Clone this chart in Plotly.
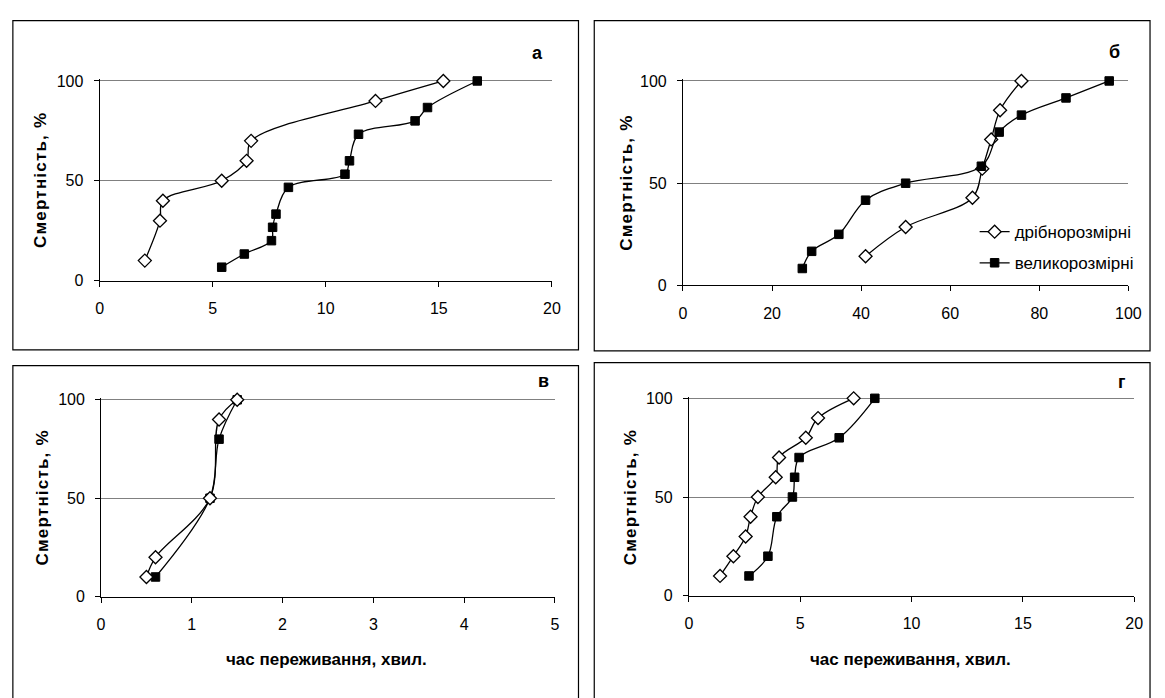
import plotly.graph_objects as go

W, H = 1165, 698

# ---- data: survival time vs cumulative mortality ----
small_label = "дрібнорозмірні"
large_label = "великорозмірні"

a_small_x = [2.0, 2.67, 2.8, 5.4, 6.5, 6.7, 12.2, 15.2]
a_small_y = [10, 30, 40, 50, 60, 70, 90, 100]
a_large_x = [5.4, 6.4, 7.6, 7.65, 7.8, 8.35, 10.85, 11.05, 11.45, 13.95, 14.5, 16.7]
a_large_y = [6.7, 13.3, 20, 26.7, 33.3, 46.7, 53.3, 60, 73.3, 80, 86.7, 100]

b_small_x = [41, 50, 65, 67.2, 69.2, 71.2, 76]
b_small_y = [14.3, 28.6, 42.9, 57.1, 71.4, 85.7, 100]
b_large_x = [26.8, 28.9, 35, 41, 50, 67, 71, 76, 86, 95.7]
b_large_y = [8.3, 16.7, 25, 41.7, 50, 58.3, 75, 83.3, 91.7, 100]

v_small_x = [0.5, 0.6, 1.2, 1.3, 1.5]
v_small_y = [10, 20, 50, 90, 100]
v_large_x = [0.6, 1.2, 1.3, 1.5]
v_large_y = [10, 50, 80, 100]

g_small_x = [1.4, 2.0, 2.55, 2.77, 3.1, 3.9, 4.05, 5.25, 5.8, 7.4]
g_small_y = [10, 20, 30, 40, 50, 60, 70, 80, 90, 100]
g_large_x = [2.7, 3.55, 3.95, 4.65, 4.75, 4.95, 6.75, 8.35]
g_large_y = [10, 20, 40, 50, 60, 70, 80, 100]

x_ticks_a = [0, 5, 10, 15, 20]
x_ticks_b = [0, 20, 40, 60, 80, 100]
x_ticks_v = [0, 1, 2, 3, 4, 5]
x_ticks_g = [0, 5, 10, 15, 20]
y_ticks = [0, 50, 100]

y_title = "Смертність, %"
x_title = "час переживання, хвил."

FONT = "Liberation Sans, Arial, sans-serif"
Y_TOP = 100.8  # a little headroom so the 100 % gridline is drawn


def px(x):
    return x / W


def py(y):
    return 1 - y / H


# panel geometry in pixels: plot area (x0, x1, y at 100 %, y at 0 %), frame, letter
panels = [
    dict(letter="а", xs=a_small_x, ys=a_small_y, xl=a_large_x, yl=a_large_y,
         xmax=20, xt=x_ticks_a, area=(97, 556, 75.7, 280),
         frame=(9, 583, 14, 351), letter_pos=(541, 47),
         ytitle=(37.5, 177), xtitle=None, large_first=False),
    dict(letter="б", xs=b_small_x, ys=b_small_y, xl=b_large_x, yl=b_large_y,
         xmax=100, xt=x_ticks_b, area=(689, 1141, 75.7, 285),
         frame=(599, 1163, 14, 352), letter_pos=(1127, 46),
         ytitle=(632, 180), xtitle=None, large_first=False),
    dict(letter="в", xs=v_small_x, ys=v_small_y, xl=v_large_x, yl=v_large_y,
         xmax=5, xt=x_ticks_v, area=(98.5, 559, 402, 603.5),
         frame=(9, 583, 367, 710), letter_pos=(547, 383),
         ytitle=(39.5, 502), xtitle=(327, 668), large_first=True),
    dict(letter="г", xs=g_small_x, ys=g_small_y, xl=g_large_x, yl=g_large_y,
         xmax=20, xt=x_ticks_g, area=(695, 1147, 400.5, 602.5),
         frame=(599, 1163, 364, 710), letter_pos=(1135, 384),
         ytitle=(636, 502), xtitle=(920, 668), large_first=False),
]

fig = go.Figure()
shapes = []
annotations = []
layout_axes = {}

line_style = dict(color="black", width=1.3, shape="spline", smoothing=1.0)

for i, p in enumerate(panels, start=1):
    xa = "x" if i == 1 else f"x{i}"
    ya = "y" if i == 1 else f"y{i}"
    show_leg = (p["letter"] == "б")

    small = go.Scatter(
        x=p["xs"], y=p["ys"], mode="lines+markers", name=small_label,
        xaxis=xa, yaxis=ya, line=line_style, cliponaxis=False,
        marker=dict(symbol="diamond", size=10, color="white",
                    line=dict(color="black", width=1.3)),
        showlegend=show_leg, legendgroup="s", legendrank=1,
    )
    large = go.Scatter(
        x=p["xl"], y=p["yl"], mode="lines+markers", name=large_label,
        xaxis=xa, yaxis=ya, line=line_style, cliponaxis=False,
        marker=dict(symbol="square", size=8.5, color="black",
                    line=dict(color="black", width=1)),
        showlegend=show_leg, legendgroup="l", legendrank=2,
    )
    if p["large_first"]:
        fig.add_trace(large)
        fig.add_trace(small)
    else:
        fig.add_trace(small)
        fig.add_trace(large)

    x0, x1, yt, yb = p["area"]
    # extend the domain top so that 100 % still sits at yt
    yt_ext = yb - (yb - yt) * Y_TOP / 100
    key_x = "xaxis" if i == 1 else f"xaxis{i}"
    key_y = "yaxis" if i == 1 else f"yaxis{i}"
    layout_axes[key_x] = dict(
        domain=[px(x0), px(x1)], range=[0, p["xmax"]], anchor=ya,
        tickvals=p["xt"], ticks="outside", ticklen=5, tickcolor="black",
        showline=True, linecolor="black", linewidth=1, showgrid=False,
        zeroline=False, fixedrange=True, ticklabelstandoff=8,
        tickfont=dict(family=FONT, size=16, color="black"),
    )
    layout_axes[key_y] = dict(
        domain=[py(yb), py(yt_ext)], range=[0, Y_TOP], anchor=xa,
        tickvals=y_ticks, ticks="outside", ticklen=5, tickcolor="black",
        showline=True, linecolor="black", linewidth=1, showgrid=True,
        gridcolor="#808080", gridwidth=1, zeroline=False, fixedrange=True,
        ticklabelstandoff=7,
        tickfont=dict(family=FONT, size=16, color="black"),
    )

    fx0, fx1, fy0, fy1 = p["frame"]
    shapes.append(dict(type="rect", xref="paper", yref="paper",
                       x0=px(fx0), x1=px(fx1), y0=py(fy1), y1=py(fy0),
                       line=dict(color="black", width=1.2), layer="below"))

    lx, ly = p["letter_pos"]
    annotations.append(dict(text=f"<b>{p['letter']}</b>", xref="paper", yref="paper",
                            x=px(lx), y=py(ly), showarrow=False,
                            xanchor="center", yanchor="middle",
                            font=dict(family=FONT, size=18, color="black")))
    tx, ty = p["ytitle"]
    annotations.append(dict(
        text=f"<b><span style='letter-spacing:1.2px'>{y_title}</span></b>",
        xref="paper", yref="paper", x=px(tx), y=py(ty), showarrow=False,
        textangle=-90, xanchor="center", yanchor="middle",
        font=dict(family=FONT, size=17, color="black")))
    if p["xtitle"]:
        tx, ty = p["xtitle"]
        annotations.append(dict(text=f"<b>{x_title}</b>", xref="paper", yref="paper",
                                x=px(tx), y=py(ty), showarrow=False,
                                xanchor="center", yanchor="middle",
                                font=dict(family=FONT, size=17, color="black")))

fig.update_layout(
    width=W, height=H, autosize=False,
    margin=dict(l=0, r=0, t=0, b=0),
    paper_bgcolor="white", plot_bgcolor="white",
    shapes=shapes, annotations=annotations,
    legend=dict(x=px(985), y=py(212), xanchor="left", yanchor="top",
                bgcolor="rgba(0,0,0,0)", traceorder="grouped",
                tracegroupgap=6, itemwidth=30,
                font=dict(family=FONT, size=17, color="black")),
    **layout_axes,
)

fig.write_html("out.html")
